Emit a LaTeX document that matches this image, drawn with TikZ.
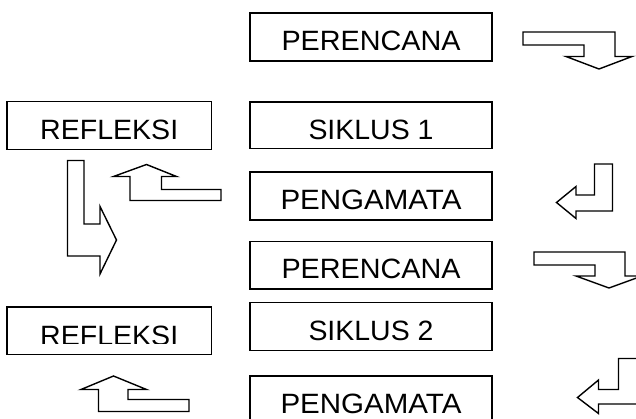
\documentclass[tikz,border=0pt]{standalone}
\usepackage{fontspec}
\setmainfont{Liberation Sans}
\usepackage{graphicx}
\usepackage{tikz}
\newcommand{\boxtext}[2]{\resizebox{#1}{19.5pt}{#2}}
\tikzset{
  stage/.style={draw, line width=1.4pt, inner sep=0pt, minimum height=48pt,
    text height=27.5pt, text depth=0pt, font=\fontsize{27}{27}\selectfont},
  midbox/.style={stage, minimum width=242pt},
  sidebox/.style={stage, minimum width=204.5pt},
  turn/.style={draw, line width=1.4pt}
}
\begin{document}
\begin{tikzpicture}[x=1pt, y=-1pt]
    \clip (0,0) rectangle (636,419);

    \node[midbox] (plan1) at (371,37) {\boxtext{179pt}{PERENCANA}};
    \node[sidebox] (refl1) at (109.2,125.5) {\boxtext{138pt}{REFLEKSI}};
    \node[midbox, minimum height=46.5pt] (cycle1) at (371,125.3) {\boxtext{125pt}{SIKLUS 1}};
    \node[midbox] (obs1) at (371,196) {\boxtext{181pt}{PENGAMATA}};
    \node[midbox, minimum height=47.5pt] (plan2) at (371,265.2) {\boxtext{179pt}{PERENCANA}};
    \node[midbox] (cycle2) at (371,326.7) {\boxtext{125pt}{SIKLUS 2}};
    \node[sidebox, minimum height=47.3pt] (refl2) at (109.2,330.7) {};
    \node[midbox] (obs2) at (371,400) {\boxtext{181pt}{PENGAMATA}};

    % second REFLEKSI is cut off at its foot
    \begin{scope}
      \clip (0,0) rectangle (636,343);
      \node[stage, draw=none] (refl2text) at ([yshift=-1.5pt]refl2.center) {\boxtext{138pt}{REFLEKSI}};
    \end{scope}

    \begin{scope}[turn]
      \draw (523,32) -- (615,32) -- (615,56.5) -- (632,56.5) -- (599,69) -- (566,56.5) -- (584,56.5) -- (584,45) -- (523,45) -- cycle;
      \draw (534,252) -- (625,252) -- (625,276) -- (642,276) -- (609,288) -- (576,276) -- (595,276) -- (595,265) -- (534,265) -- cycle;
      \draw (594.5,164) -- (612.5,164) -- (612.5,211) -- (576,211) -- (576,218.5) -- (556.5,202.5) -- (576,186.5) -- (576,195) -- (594.5,195) -- cycle;
      \draw (618.5,358.5) -- (637,358.5) -- (637,404) -- (598.5,404) -- (598.5,413.5) -- (577.5,397.5) -- (598.5,380) -- (598.5,389.5) -- (618.5,389.5) -- cycle;
      \draw (221,189.5) -- (161.5,189.5) -- (161.5,176.5) -- (176.5,176.5) -- (146.5,164.5) -- (113.5,176.5) -- (130,176.5) -- (130,200.5) -- (221,200.5) -- cycle;
      \draw (189,399.5) -- (128,399.5) -- (128,389.5) -- (146.5,389.5) -- (113.5,376) -- (81,389.5) -- (98.5,389.5) -- (98.5,411.5) -- (189,411.5) -- cycle;
      \draw (67.5,160.5) -- (84,160.5) -- (84,224) -- (100,224) -- (100,206.5) -- (116.5,240) -- (100,274) -- (100,256) -- (67.5,256) -- cycle;
    \end{scope}
  \end{tikzpicture}
\end{document}
